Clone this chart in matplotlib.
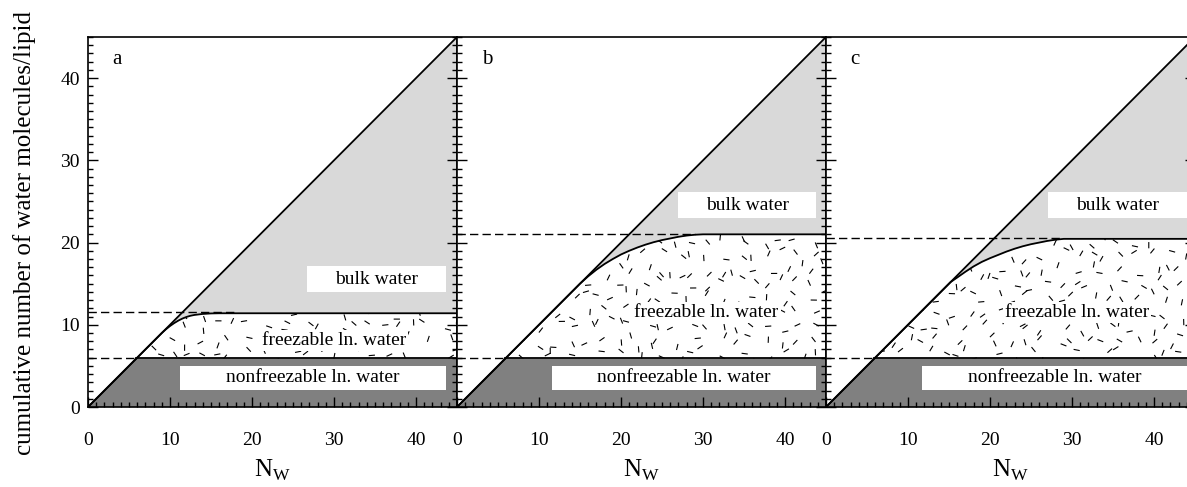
import numpy as np
import matplotlib
matplotlib.use("Agg")
import matplotlib.pyplot as plt
from matplotlib.patches import Rectangle, Polygon
from matplotlib.collections import LineCollection
from matplotlib.ticker import MultipleLocator

plt.rcParams['font.family'] = ['Liberation Serif', 'DejaVu Serif']
plt.rcParams['mathtext.fontset'] = 'custom'
plt.rcParams['mathtext.rm'] = 'Liberation Serif'

# ---- data ----
panel_names = ['a', 'b', 'c']
nonfreezable = [5.9, 5.9, 5.9]          # nonfreezable lipid-near water / lipid
plateau_dash = [11.6, 21.1, 20.6]       # dashed level of total lipid-near water
dash_end = [18.2, 29.0, 28.5]

diag_x = [0, 45]
diag_y = [0, 45]

curve_a_x = [0, 9.0, 9.5, 10, 10.5, 11, 11.5, 12, 12.5, 13, 14, 15, 16, 45]
curve_a_y = [0, 9.0, 9.45, 9.85, 10.2, 10.5, 10.75, 10.95, 11.1, 11.2, 11.32, 11.38, 11.4, 11.4]

curve_b_x = [0, 15, 16, 17, 18, 19, 20, 21, 22, 23, 24, 25, 26, 27, 28, 29, 30, 45]
curve_b_y = [0, 15, 15.9, 16.7, 17.4, 18.0, 18.55, 19.0, 19.4, 19.75, 20.05, 20.3, 20.5,
             20.7, 20.85, 20.95, 21.0, 21.0]

curve_c_x = [0, 15.2, 16, 17, 18, 19, 20, 21, 22, 23, 24, 25, 26, 27, 28, 29, 45]
curve_c_y = [0, 15.2, 15.75, 16.45, 17.1, 17.65, 18.1, 18.5, 18.9, 19.25, 19.55, 19.8,
             20.0, 20.2, 20.35, 20.45, 20.45]

curves = [(curve_a_x, curve_a_y), (curve_b_x, curve_b_y), (curve_c_x, curve_c_y)]

xticks = [0, 10, 20, 30, 40]
yticks = [0, 10, 20, 30, 40]

# label boxes (x0, x1, y0, y1) in data units
bulk_box = [(26.7, 43.6, 14.0, 17.1), (27.0, 43.8, 23.0, 26.1), (27.1, 44.0, 23.0, 26.1)]
nonf_box = [(11.2, 43.6, 2.1, 5.0), (11.6, 43.8, 2.1, 5.0), (11.75, 44.0, 2.1, 5.0)]
freez_pos = [(30.0, 8.1), (30.4, 11.5), (30.6, 11.5)]

LIGHT = '#d9d9d9'
DARK = '#808080'

W, H = 1187, 487
fig = plt.figure(figsize=(W / 100, H / 100), dpi=100)

lefts = [88, 457, 826]
pw, ph = 369, 370
bottom = 80


def hash01(k, s):
    # deterministic scatter for the fill texture
    v = np.sin(k * 12.9898 + s * 78.233) * 43758.5453
    return v - np.floor(v)


def texture(ax, poly_xy, y0, y1, seed):
    # short dashes in a jittered grid, clipped to the freezable region
    sx, sy = 1.85, 1.75
    gx, gy = np.meshgrid(np.arange(0, 45, sx), np.arange(y0, y1, sy))
    gx, gy = gx.ravel(), gy.ravel()
    k = np.arange(gx.size) + 1.0
    px = gx + hash01(k, seed + 1) * sx
    py = gy + hash01(k, seed + 2) * sy
    ang = hash01(k, seed + 3) * np.pi
    L = 0.38
    segs = [[(x - L * np.cos(t), y - L * np.sin(t)), (x + L * np.cos(t), y + L * np.sin(t))]
            for x, y, t in zip(px, py, ang)]
    lc = LineCollection(segs, colors='black', linewidths=0.8, zorder=1.5)
    ax.add_collection(lc)
    clip = Polygon(poly_xy, closed=True, transform=ax.transData, fc='none', ec='none')
    ax.add_patch(clip)
    lc.set_clip_path(clip)


for i, name in enumerate(panel_names):
    ax = fig.add_axes([lefts[i] / W, bottom / H, pw / W, ph / H])
    ax.set_xlim(0, 45)
    ax.set_ylim(0, 45)
    cx = np.array(curves[i][0], dtype=float)
    cy = np.array(curves[i][1], dtype=float)
    nf = nonfreezable[i]
    top = cy[-1]

    # nonfreezable region
    ax.fill([0, nf, 45, 45], [0, nf, nf, 0], color=DARK, lw=0, zorder=1)
    # bulk water region
    ax.fill_between(cx, cy, cx, color=LIGHT, lw=0, zorder=1)
    # freezable region with texture
    sel = cx > nf
    poly = [(nf, nf)] + list(zip(cx[sel], cy[sel])) + [(45, nf)]
    texture(ax, poly, nf - 0.5, top + 0.5, i * 3.1)

    # boxes
    x0, x1, y0, y1 = bulk_box[i]
    ax.add_patch(Rectangle((x0, y0), x1 - x0, y1 - y0, fc='white', ec='none', zorder=2))
    ax.text((x0 + x1) / 2, (y0 + y1) / 2, 'bulk water', ha='center', va='center',
            fontsize=14, zorder=4)
    x0, x1, y0, y1 = nonf_box[i]
    ax.add_patch(Rectangle((x0, y0), x1 - x0, y1 - y0, fc='white', ec='none', zorder=2))
    ax.text((x0 + x1) / 2, (y0 + y1) / 2, 'nonfreezable ln. water', ha='center', va='center',
            fontsize=14, zorder=4)
    fx, fy = freez_pos[i]
    ax.text(fx, fy, 'freezable ln. water', ha='center', va='center', fontsize=14, zorder=4,
            bbox=dict(fc='white', ec='none', pad=1.5))

    # lines
    ax.plot(diag_x, diag_y, color='black', lw=1.3, zorder=3)
    ax.plot(cx, cy, color='black', lw=1.3, zorder=3)
    ax.plot([nf, 45], [nf, nf], color='black', lw=1.3, zorder=3)
    ax.plot([0, nf], [nf, nf], color='black', lw=1.0, ls=(0, (6, 3)), zorder=3)
    ax.plot([0, dash_end[i]], [plateau_dash[i]] * 2, color='black', lw=1.0,
            ls=(0, (6, 3)), zorder=3)

    ax.text(3.0, 42.3, name, fontsize=15, ha='left', va='center')

    # axes styling
    for sp in ax.spines.values():
        sp.set_linewidth(1.2)
    ax.set_xticks(xticks)
    ax.set_yticks(yticks)
    ax.xaxis.set_minor_locator(MultipleLocator(1))
    ax.yaxis.set_minor_locator(MultipleLocator(1))
    ax.tick_params(which='both', direction='in', top=False, right=True, width=1.0)
    ax.tick_params(which='major', length=7)
    ax.tick_params(which='minor', length=3.5)
    ax.tick_params(axis='x', labelsize=14, pad=18)
    ax.tick_params(axis='y', labelsize=14, pad=6)
    if i > 0:
        ax.set_yticklabels([])
    ax.set_xlabel(r'N$_{\mathrm{W}}$', fontsize=18, labelpad=6)

fig.text(25 / W, 1 - 233 / H, 'cumulative number of water molecules/lipid', rotation=90,
         ha='center', va='center', fontsize=18)

fig.savefig('out.png', dpi=100)
